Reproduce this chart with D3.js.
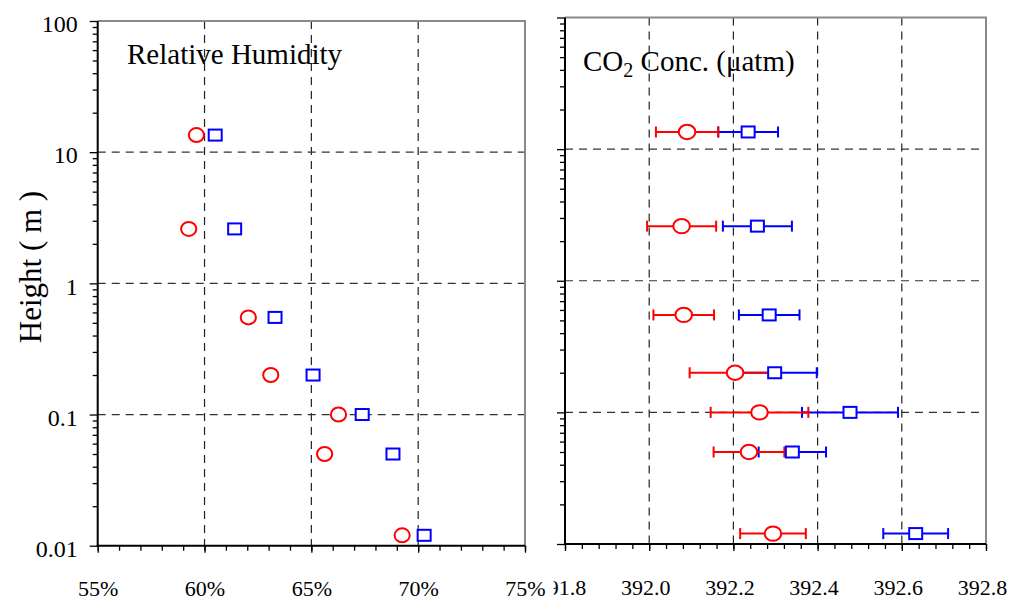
<!DOCTYPE html>
<html>
<head>
<meta charset="utf-8">
<script src="https://cdn.jsdelivr.net/npm/d3@7"></script>
<style>
  body { margin: 0; background: #fff; }
  svg { display: block; }
  text { font-family: "Liberation Serif", "Times New Roman", serif; fill: #000; }
</style>
</head>
<body>
<script>
// sampling heights (m), shared by both panels
var heights = [13.5, 2.6, 0.55, 0.2, 0.1, 0.05, 0.012];

// relative humidity (%)
var rhRed  = [59.62, 59.26, 62.05, 63.10, 66.27, 65.62, 69.25];
var rhBlue = [60.50, 61.41, 63.30, 65.08, 67.38, 68.82, 70.28];

// CO2 concentration (uatm) with +/- spread
var co2Red     = [392.090, 392.077, 392.082, 392.204, 392.262, 392.237, 392.294];
var co2RedErr  = [0.074, 0.082, 0.072, 0.108, 0.116, 0.084, 0.078];
var co2Blue    = [392.235, 392.257, 392.285, 392.298, 392.477, 392.340, 392.633];
var co2BlueErr = [0.071, 0.082, 0.072, 0.100, 0.114, 0.080, 0.077];

var yMajor = [0.01, 0.1, 1, 10, 100];
var yLabels = ["0.01", "0.1", "1", "10", "100"];
var rhTicks = [55, 60, 65, 70, 75];
var rhLabels = ["55%", "60%", "65%", "70%", "75%"];
var co2Ticks = [391.8, 392.0, 392.2, 392.4, 392.6, 392.8];
var co2Labels = ["391.8", "392.0", "392.2", "392.4", "392.6", "392.8"];

var width = 1015, height = 599;
var RED = "#ff0000", BLUE = "#0000ff";

var svg = d3.select("body").append("svg")
  .attr("width", width)
  .attr("height", height);

// log minor ticks 2..9 in each decade
var yMinor = [];
[0.01, 0.1, 1, 10].forEach(function(d){
  for (var k = 2; k <= 9; k++) yMinor.push(+(d * k).toPrecision(3));
});

function panel(opt){
  var x = opt.x, y = opt.y;
  var g = svg.append("g");
  var x0 = x.range()[0], x1 = x.range()[1];
  var yb = y.range()[0], yt = y.range()[1];

  // dashed grid
  g.selectAll(".vgrid").data(opt.vgrid).enter().append("line")
    .attr("x1", function(d){ return x(d); }).attr("x2", function(d){ return x(d); })
    .attr("y1", yt).attr("y2", yb)
    .attr("stroke", "#222").attr("stroke-width", 1.2)
    .attr("stroke-dasharray", "8,6");
  g.selectAll(".hgrid").data([0.1, 1, 10]).enter().append("line")
    .attr("x1", x0).attr("x2", x1)
    .attr("y1", function(d){ return y(d); }).attr("y2", function(d){ return y(d); })
    .attr("stroke", "#333").attr("stroke-width", 1.2)
    .attr("stroke-dasharray", "8,6");

  // top / right frame in gray
  g.append("path")
    .attr("d", "M" + x0 + "," + yt + "H" + x1 + "V" + yb)
    .attr("fill", "none").attr("stroke", "#8a8a8a").attr("stroke-width", 2);

  // y axis
  var ya = g.append("g").attr("transform", "translate(" + x0 + ",0)");
  ya.call(d3.axisLeft(y).tickValues(yMinor).tickSize(5).tickFormat(""));
  var ym = ya.append("g").call(d3.axisLeft(y).tickValues(yMajor).tickSize(8).tickPadding(12)
      .tickFormat(function(d, i){ return opt.yLabels ? yLabels[i] : ""; }));
  ym.selectAll("text").attr("font-size", 24).attr("dy", "0.45em");

  // x axis
  var xa = g.append("g").attr("transform", "translate(0," + yb + ")");
  xa.call(d3.axisBottom(x).tickValues(opt.xMinor).tickSize(5).tickFormat(""));
  var xm = xa.append("g").call(d3.axisBottom(x).tickValues(opt.xTicks).tickSize(7).tickPadding(28)
      .tickFormat(function(d, i){ return opt.xLabels[i]; }));
  xm.selectAll("text").attr("font-size", 22).attr("dx", opt.labelShift);

  // let the page font apply to tick labels
  g.selectAll("g").attr("font-family", null).attr("font-size", null);

  g.selectAll(".tick line").attr("stroke", "#000").attr("stroke-width", 1.3);
  g.selectAll(".domain").remove();
  ya.append("line").attr("y1", yt).attr("y2", yb + 1).attr("stroke", "#000").attr("stroke-width", 2);
  xa.append("line").attr("x1", x0 - 1).attr("x2", x1).attr("stroke", "#000").attr("stroke-width", 2);

  return { g: g, xm: xm };
}

// ---------- right panel: CO2 ----------
var xc = d3.scaleLinear().domain([391.8, 392.8]).range([565, 986]);
var yc = d3.scaleLog().domain([0.01, 100]).range([544, 17.5]);
var co2Minor = d3.range(0, 26).map(function(i){ return +(391.8 + i * 0.04).toFixed(2); });
var pr = panel({ x: xc, y: yc, vgrid: [392.0, 392.2, 392.4, 392.6], yLabels: false,
  xTicks: co2Ticks, xLabels: co2Labels, xMinor: co2Minor, labelShift: -4 });

function errSeries(g, vals, errs, color){
  var s = g.append("g").attr("stroke", color).attr("stroke-width", 2).attr("fill", "none");
  vals.forEach(function(v, i){
    var yy = yc(heights[i]);
    var a = xc(v - errs[i]), b = xc(v + errs[i]);
    s.append("line").attr("x1", a).attr("x2", b).attr("y1", yy).attr("y2", yy);
    s.append("line").attr("x1", a).attr("x2", a).attr("y1", yy - 5.5).attr("y2", yy + 5.5);
    s.append("line").attr("x1", b).attr("x2", b).attr("y1", yy - 5.5).attr("y2", yy + 5.5);
  });
}
errSeries(pr.g, co2Blue, co2BlueErr, BLUE);
errSeries(pr.g, co2Red, co2RedErr, RED);

pr.g.selectAll(".csq").data(co2Blue).enter().append("rect")
  .attr("x", function(d){ return xc(d) - 6.5; })
  .attr("y", function(d, i){ return yc(heights[i]) - 5.5; })
  .attr("width", 13).attr("height", 11)
  .attr("fill", "#fff").attr("stroke", BLUE).attr("stroke-width", 2);
pr.g.selectAll(".cci").data(co2Red).enter().append("ellipse")
  .attr("cx", function(d){ return xc(d); })
  .attr("cy", function(d, i){ return yc(heights[i]); })
  .attr("rx", 8.3).attr("ry", 7.2)
  .attr("fill", "#fff").attr("stroke", RED).attr("stroke-width", 2);

var co2Title = pr.g.append("text").attr("x", 583).attr("y", 71).attr("font-size", 29);
co2Title.append("tspan").text("CO");
co2Title.append("tspan").attr("font-size", 20).attr("dy", 6).text("2");
co2Title.append("tspan").attr("dy", -6).text(" Conc. (μatm)");

// ---------- left panel: relative humidity ----------
var xr = d3.scaleLinear().domain([55, 75]).range([97.7, 525]);
var yr = d3.scaleLog().domain([0.01, 100]).range([545.7, 21]);
var pl = panel({ x: xr, y: yr, vgrid: [60, 65, 70], yLabels: true,
  xTicks: rhTicks, xLabels: rhLabels, xMinor: d3.range(55, 76), labelShift: 0 });

// the last label sits on a white box over its neighbour
pl.xm.selectAll(".tick").filter(function(d){ return d === 75; }).each(function(){
  var t = d3.select(this).select("text");
  var bb = t.node().getBBox();
  d3.select(this).insert("rect", "text")
    .attr("x", bb.x - 1).attr("y", bb.y).attr("width", bb.width + 9).attr("height", bb.height)
    .attr("fill", "#fff");
});

pl.g.selectAll(".rsq").data(rhBlue).enter().append("rect")
  .attr("x", function(d){ return xr(d) - 6.5; })
  .attr("y", function(d, i){ return yr(heights[i]) - 5.5; })
  .attr("width", 13).attr("height", 11)
  .attr("fill", "#fff").attr("stroke", BLUE).attr("stroke-width", 2);
pl.g.selectAll(".rci").data(rhRed).enter().append("ellipse")
  .attr("cx", function(d){ return xr(d); })
  .attr("cy", function(d, i){ return yr(heights[i]); })
  .attr("rx", 7.6).attr("ry", 7)
  .attr("fill", "#fff").attr("stroke", RED).attr("stroke-width", 2);

pl.g.append("text").attr("x", 127).attr("y", 64).attr("font-size", 29).text("Relative Humidity");

svg.append("text")
  .attr("transform", "translate(41,267) rotate(-90)")
  .attr("text-anchor", "middle")
  .attr("font-size", 31)
  .text("Height ( m )");
</script>
</body>
</html>
